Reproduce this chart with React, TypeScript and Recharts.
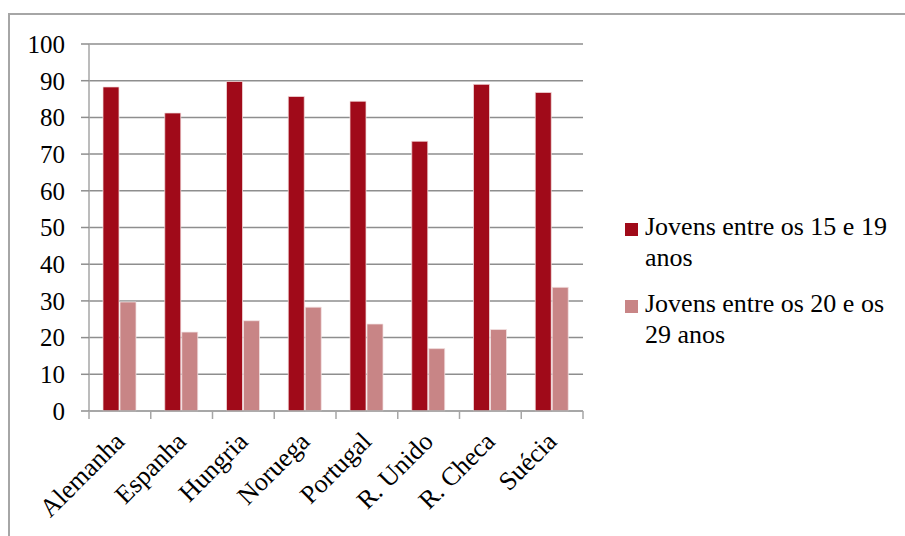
import { BarChart, Bar, XAxis, YAxis, CartesianGrid, Legend } from "recharts";

const categories = ["Alemanha", "Espanha", "Hungria", "Noruega", "Portugal", "R. Unido", "R. Checa", "Suécia"];
const youth15to19 = [88.3, 81.2, 89.8, 85.7, 84.4, 73.5, 89.0, 86.8];
const youth20to29 = [29.7, 21.5, 24.6, 28.3, 23.7, 17.0, 22.2, 33.7];
const seriesNames = ["Jovens entre os 15 e 19 anos", "Jovens entre os 20 e os 29 anos"];
const yTicks = [0, 10, 20, 30, 40, 50, 60, 70, 80, 90, 100];

const data = categories.map((country, i) => ({
  country,
  a: youth15to19[i],
  b: youth20to29[i],
}));

const FONT = '"Liberation Serif", "Times New Roman", serif';
const GRID = "#8e8e8e";
const AXIS = "#a6a6a6";

const CHART_W = 895;
const CHART_H = 521;
const MARGIN = { top: 29, right: 322, bottom: 0, left: 0 };
const Y_AXIS_W = 79;
// half of one category band, for the tick marks at the band edges
const HALF_BAND = (CHART_W - MARGIN.right - MARGIN.left - Y_AXIS_W) / categories.length / 2;

function CountryTick({ x, y, payload, index }: any) {
  const last = index === categories.length - 1;
  return (
    <g transform={`translate(${x},${y})`}>
      <line x1={-HALF_BAND} x2={-HALF_BAND} y1={0} y2={8} stroke={AXIS} strokeWidth={1.5} />
      {last && <line x1={HALF_BAND} x2={HALF_BAND} y1={0} y2={8} stroke={AXIS} strokeWidth={1.5} />}
      <text
        x={6}
        y={32}
        textAnchor="end"
        transform="rotate(-45, 6, 32)"
        fontFamily={FONT}
        fontSize={26}
        fill="#000"
      >
        {payload.value}
      </text>
    </g>
  );
}

function SeriesLegend({ payload }: any) {
  return (
    <div style={{ fontFamily: FONT, fontSize: 26, lineHeight: "31px", color: "#000", textAlign: "left" }}>
      {(payload || []).map((entry: any, i: number) => (
        <div key={entry.value} style={{ display: "flex", marginTop: i === 0 ? 0 : 15 }}>
          <div style={{ width: 13, height: 13, marginTop: 12, marginRight: 7, background: entry.color, flex: "none" }} />
          <div style={{ width: 258 }}>{entry.value}</div>
        </div>
      ))}
    </div>
  );
}

export default function App() {
  return (
    <>
      <style>{`body{margin:0;overflow:hidden}`}</style>
      <div
        style={{
          marginTop: 13,
          marginLeft: 8,
          width: 897,
          height: 523,
          boxSizing: "border-box",
          borderTop: `2px solid ${AXIS}`,
          borderLeft: `2px solid ${AXIS}`,
          background: "#fff",
        }}
      >
        <BarChart
          width={CHART_W}
          height={CHART_H}
          data={data}
          margin={MARGIN}
          barSize={16}
          barGap={1}
        >
          <CartesianGrid vertical={false} stroke={GRID} strokeWidth={1.5} />
          <XAxis
            dataKey="country"
            height={125}
            interval={0}
            tickLine={false}
            axisLine={{ stroke: AXIS, strokeWidth: 1.5 }}
            tickSize={0}
            tickMargin={0}
            tick={<CountryTick />}
          />
          <YAxis
            width={Y_AXIS_W}
            domain={[0, 100]}
            ticks={yTicks}
            interval={0}
            tickSize={8}
            tickMargin={16}
            tickLine={{ stroke: GRID, strokeWidth: 1.5 }}
            axisLine={{ stroke: AXIS, strokeWidth: 1.5 }}
            tick={{ fontFamily: FONT, fontSize: 25, fill: "#000" }}
          />
          <Legend
            layout="horizontal"
            verticalAlign="middle"
            align="center"
            content={<SeriesLegend />}
            wrapperStyle={{ position: "absolute", left: 615, top: 196, width: 280 }}
          />
          <Bar dataKey="a" name={seriesNames[0]} fill="#A00A19" stroke="#f3dede" strokeWidth={0.75} isAnimationActive={false} />
          <Bar dataKey="b" name={seriesNames[1]} fill="#C88586" stroke="#f3e3e3" strokeWidth={0.75} isAnimationActive={false} />
        </BarChart>
      </div>
    </>
  );
}
